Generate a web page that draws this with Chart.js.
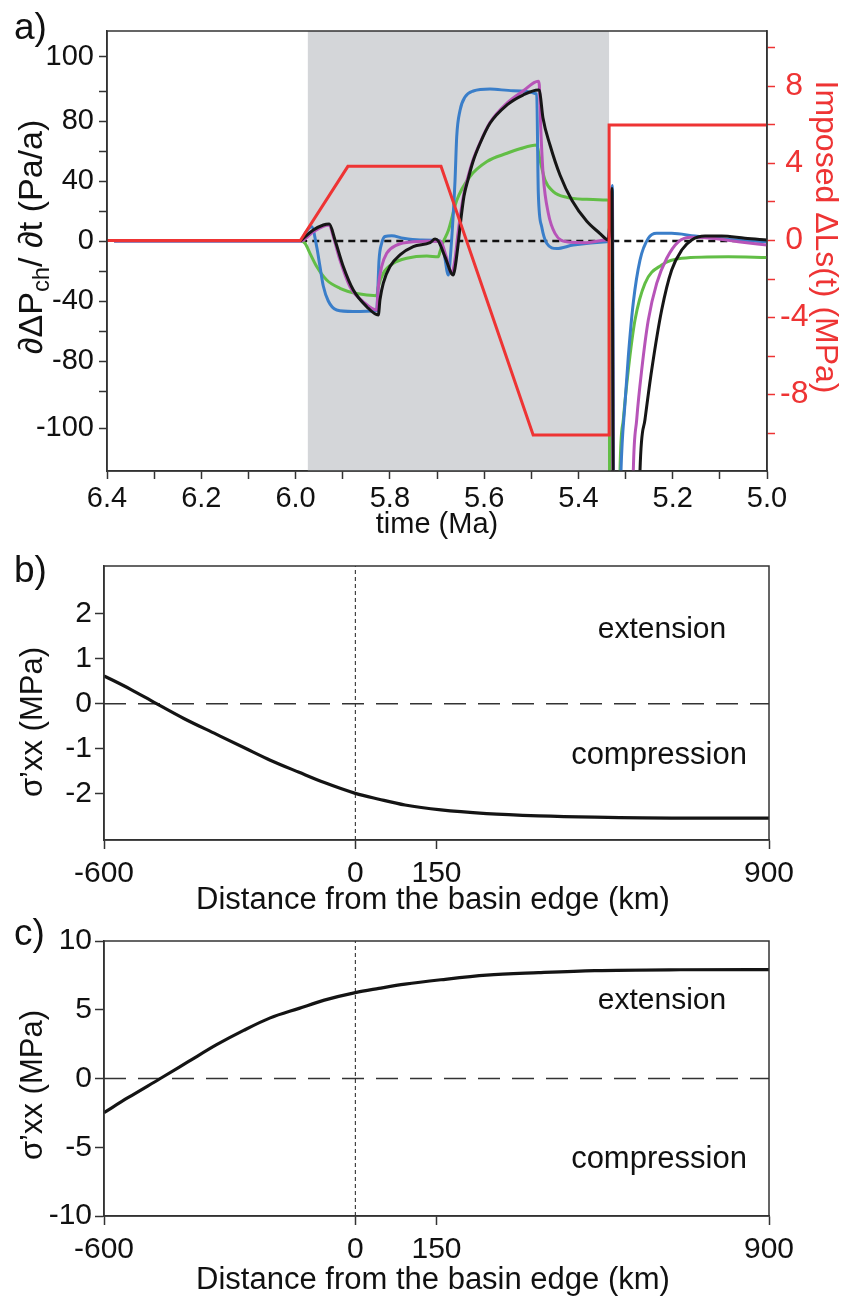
<!DOCTYPE html>
<html>
<head>
<meta charset="utf-8">
<script src="https://cdn.jsdelivr.net/npm/chart.js@4.4.1/dist/chart.umd.min.js"></script>
<style>
  body { margin: 0; background: #fff; width: 843px; height: 1296px; position: relative; overflow: hidden; }
  canvas { position: absolute; left: 0; }
  #a { top: 0; }
  #b { top: 545px; }
  #c { top: 910px; }
</style>
</head>
<body>
<canvas id="a" width="843" height="545"></canvas>
<canvas id="b" width="843" height="380"></canvas>
<canvas id="c" width="843" height="386"></canvas>
<script>
const F = "'Liberation Sans', Arial, Helvetica, sans-serif";

// ---- panel a : time (Ma) vs d(dPch)/dt (Pa/a), imposed dLs (MPa) ----
const timeTicks  = [6.4, 6.3, 6.2, 6.1, 6.0, 5.9, 5.8, 5.7, 5.6, 5.5, 5.4, 5.3, 5.2, 5.1, 5.0];
const timeLabels = ['6.4', '', '6.2', '', '6.0', '', '5.8', '', '5.6', '', '5.4', '', '5.2', '', '5.0'];
const rateTicks  = [-124.7, -100, -80, -60, -40, -20, 0, 20, 40, 60, 80, 100, 122.7];
const rateLabels = ['-100', '', '-80', '', '-40', '', '0', '', '40', '', '80', '', '100'];
const lsTicks    = [-10, -8, -6, -4, -2, 0, 2, 4, 6, 8, 10];
const lsLabels   = ['', '-8', '', '-4', '', '0', '', '4', '', '8', ''];
const shadeSpan  = [5.974, 5.335];

const blueRate = [[6.385,0],[5.9885,0],[5.98,5],[5.9658,9.5],[5.9552,-3.8],[5.9482,-17],[5.9412,-30],[5.9306,-40],
  [5.9128,-46],[5.8782,-47],[5.8279,-46.5],[5.8258,-35],[5.823,-13],[5.8173,-1.5],[5.8103,3],[5.7961,3.5],
  [5.7715,1.8],[5.736,0.7],[5.6936,0],[5.6851,-8],[5.676,-22.7],[5.6703,-5],[5.6618,40],[5.6582,69.5],
  [5.6512,87],[5.6406,96],[5.623,100],[5.5876,101.3],[5.5388,100.2],[5.4885,98],[5.4851,32],[5.4779,9.5],
  [5.4673,-1.5],[5.4461,-5],[5.4109,-2.7],[5.34,-0.5],[5.3366,0],[5.3282,37],[5.3245,-200],[5.313,-200],
  [5.3097,-153],[5.3012,-108],[5.2942,-77],[5.2836,-41],[5.2694,-12.7],[5.2518,1.8],[5.234,5.1],[5.2022,5.1],
  [5.1527,3.3],[5.0821,1.1],[5.0,-0.5]];

const magentaRate = [[6.385,0],[5.9885,0],[5.9624,6.2],[5.9285,10.7],[5.92,3],[5.9058,-12.7],[5.8845,-30.5],
  [5.8563,-40.5],[5.8279,-46],[5.8245,-30.5],[5.8173,-17],[5.8067,-8.2],[5.7855,-2.7],[5.7503,-0.5],[5.6936,0],
  [5.6894,-1.5],[5.6809,-10],[5.6688,-21.5],[5.6618,-12],[5.6555,5],[5.6491,20],[5.6427,32],[5.6342,43],
  [5.6236,54],[5.6088,65.5],[5.5876,79],[5.5515,92],[5.5176,100],[5.4851,106.5],[5.483,104],[5.48,76],
  [5.4745,43],[5.4639,18.5],[5.4497,5.1],[5.4249,-0.5],[5.3825,-1.1],[5.34,0.7],[5.3352,0.7],[5.3288,30],
  [5.3256,-200],[5.286,-200],[5.2836,-153],[5.2764,-119],[5.2658,-86],[5.2518,-52.7],[5.234,-28.2],
  [5.2127,-11.5],[5.1881,-0.5],[5.1597,2.5],[5.1173,1.8],[5.0609,-0.5],[5.0,-2.7]];

const blackRate = [[5.99,0],[5.9624,7.3],[5.9412,10.7],[5.9285,11.3],[5.9164,0.7],[5.8988,-17],[5.8775,-32.7],
  [5.8491,-43.8],[5.8245,-49.3],[5.8209,-39],[5.8139,-28],[5.7997,-17],[5.7785,-9.3],[5.7503,-3.8],
  [5.7148,-1.1],[5.7042,1.3],[5.6972,0],[5.683,-10.5],[5.6654,-22.7],[5.6618,-18],[5.6555,-3],[5.6491,15],
  [5.6427,30],[5.6342,41],[5.6236,53],[5.6088,65],[5.5876,78.5],[5.5515,90.7],[5.5176,97.3],[5.4851,100.7],
  [5.483,100.5],[5.4752,82],[5.4603,64],[5.4391,44],[5.4136,27],[5.3818,13],[5.3542,5],[5.34,1],[5.3366,0.7],
  [5.3288,35],[5.3256,-200],[5.272,-200],[5.2694,-153],[5.2588,-119],[5.2446,-86],[5.2234,-46],[5.2022,-19.3],
  [5.1809,-6],[5.1597,0.7],[5.1315,3.3],[5.0961,3.3],[5.0467,1.8],[5.0,0.7]];

const greenRate = [[6.385,0],[5.9885,0],[5.98,-1.5],[5.9694,-8.2],[5.9552,-17],[5.934,-26],[5.9058,-31.5],
  [5.8703,-35],[5.8279,-36.4],[5.8245,-30.5],[5.8139,-21.5],[5.7927,-14.9],[5.7643,-11.5],[5.7218,-10],
  [5.6972,-10.5],[5.6936,-7],[5.6873,-1],[5.676,7],[5.6582,27],[5.63,43],[5.594,53],[5.5515,58.5],
  [5.5239,61.5],[5.4885,64],[5.4815,54],[5.4709,40.7],[5.4533,32.9],[5.4249,29.1],
  [5.3825,27.8],[5.34,27.3],[5.3352,27],[5.3335,-200],[5.3135,-200],[5.3118,-153],[5.3048,-119],[5.2942,-86],
  [5.28,-52.7],[5.2588,-28.2],[5.2234,-16],[5.1809,-11.5],[5.0821,-10.5],[5.0,-10.9]];

const imposedLs = [[6.4,0],[5.99,0],[5.889,3.85],[5.6915,3.85],[5.496,-10.1],[5.335,-10.1],[5.3349,6],[5.0,6]];
const zeroRate  = [[5.99,0],[5.0,0]];

// ---- panels b and c : distance from basin edge vs sigma'xx ----
const distTicks  = [-600, -33, 150, 900];
const distLabels = ['-600', '0', '150', '900'];
const sigmaTicksB = [-2, -1, 0, 1, 2];
const sigmaTicksC = [-10, -5, 0, 5, 10];
const distB  = [-600, -540, -487, -420, -347, -280, -225, -160, -103, -33, 20, 79, 160, 263, 380, 507, 700, 900];
const sigmaB = [0.62, 0.32, 0.03, -0.33, -0.68, -1.0, -1.26, -1.53, -1.76, -2.0, -2.13, -2.26, -2.37, -2.45, -2.5, -2.53, -2.55, -2.55];
const distC  = [-600, -545, -473, -410, -347, -285, -225, -160, -103, -33, 20, 79, 160, 263, 380, 507, 700, 900];
const sigmaC = [-2.48, -1.38, 0, 1.22, 2.44, 3.5, 4.41, 5.1, 5.7, 6.25, 6.55, 6.86, 7.18, 7.52, 7.7, 7.85, 7.91, 7.92];

const RED = 'rgb(238,52,52)';

function pts(a) { return a.map(p => ({ x: p[0], y: p[1] })); }
function zip(xs, ys) { return xs.map((x, i) => ({ x: x, y: ys[i] })); }

function line(data, color, w, order, extra) {
  return Object.assign({
    data: data, borderColor: color, borderWidth: w, pointRadius: 0, fill: false,
    order: order, cubicInterpolationMode: 'monotone'
  }, extra || {});
}

function fixTicks(vals) {
  return s => { s.ticks = vals.map(v => ({ value: v })); };
}

// frame + free text drawn on top
const frameText = {
  id: 'frameText',
  afterDraw(chart, args, opts) {
    const ctx = chart.ctx, a = chart.chartArea;
    ctx.save();
    ctx.strokeStyle = '#333';
    ctx.lineWidth = 1.5;
    ctx.strokeRect(a.left, a.top, a.right - a.left, a.bottom - a.top);
    (opts.texts || []).forEach(t => {
      ctx.save();
      ctx.translate(t.x, t.y);
      if (t.rot) ctx.rotate(t.rot);
      ctx.fillStyle = t.color || '#111';
      ctx.textBaseline = t.base || 'middle';
      const parts = t.parts || [{ s: t.s }];
      let total = 0;
      parts.forEach(p => {
        ctx.font = (p.sub ? t.size * 0.7 : t.size) + 'px ' + F;
        total += ctx.measureText(p.s).width;
      });
      let x = t.align === 'left' ? 0 : -total / 2;
      parts.forEach(p => {
        ctx.font = (p.sub ? t.size * 0.7 : t.size) + 'px ' + F;
        ctx.textAlign = 'left';
        ctx.fillText(p.s, x, p.sub ? t.size * 0.28 : 0);
        x += ctx.measureText(p.s).width;
      });
      ctx.restore();
    });
    ctx.restore();
  }
};

const shade = {
  id: 'shade',
  beforeDatasetsDraw(chart) {
    const ctx = chart.ctx, a = chart.chartArea, x = chart.scales.x;
    const x0 = x.getPixelForValue(shadeSpan[0]), x1 = x.getPixelForValue(shadeSpan[1]);
    ctx.save();
    ctx.fillStyle = 'rgb(212,214,217)';
    ctx.fillRect(Math.min(x0, x1), a.top, Math.abs(x1 - x0), a.bottom - a.top);
    ctx.restore();
  }
};

Chart.defaults.font.family = F;
Chart.defaults.color = '#111';

new Chart(document.getElementById('a'), {
  type: 'line',
  data: {
    datasets: [
      line(pts(imposedLs), RED, 3, 0, { yAxisID: 'y2', cubicInterpolationMode: 'default', tension: 0 }),
      line(pts(blackRate), '#161616', 3, 1),
      line(pts(magentaRate), 'rgb(183,84,184)', 3, 2),
      line(pts(blueRate), 'rgb(58,126,201)', 3, 3),
      line(pts(greenRate), 'rgb(98,190,70)', 3, 4),
      line(pts(zeroRate), '#111', 2.5, 5, { borderDash: [7, 5], cubicInterpolationMode: 'default', tension: 0 })
    ]
  },
  options: {
    responsive: false, animation: false, devicePixelRatio: 1,
    layout: { padding: { top: 31, left: 0, right: 0, bottom: 0 } },
    plugins: {
      legend: { display: false }, tooltip: { enabled: false },
      frameText: {
        texts: [
          { s: 'a)', x: 14, y: 39, size: 37, align: 'left', base: 'alphabetic' },
          { s: 'time (Ma)', x: 437, y: 525, size: 29 },
          { parts: [{ s: '∂ΔP' }, { s: 'ch', sub: true }, { s: '/ ∂t (Pa/a)' }], x: 33, y: 237, size: 34, rot: -Math.PI / 2 },
          { s: 'Imposed ΔLs(t) (MPa)', x: 825, y: 237, size: 32, color: RED, rot: Math.PI / 2 }
        ]
      }
    },
    scales: {
      x: {
        type: 'linear', reverse: true, min: 5.0, max: 6.4,
        afterBuildTicks: fixTicks(timeTicks),
        afterFit: s => { s.height = 74; },
        ticks: { autoSkip: false, maxRotation: 0, padding: 3, font: { size: 29 }, callback: (v, i) => timeLabels[i] },
        grid: { drawOnChartArea: false, tickLength: 8, tickColor: '#333', tickWidth: 1.5 },
        border: { color: '#333', width: 1.5 }
      },
      y: {
        type: 'linear', position: 'left', min: -153.3, max: 140,
        afterBuildTicks: fixTicks(rateTicks),
        afterFit: s => { s.width = 107; },
        ticks: { autoSkip: false, padding: 5, font: { size: 29 }, callback: (v, i) => rateLabels[i] },
        grid: { drawOnChartArea: false, tickLength: 8, tickColor: '#333', tickWidth: 1.5 },
        border: { color: '#333', width: 1.5 }
      },
      y2: {
        type: 'linear', position: 'right', min: -11.97, max: 10.88,
        afterBuildTicks: fixTicks(lsTicks),
        afterFit: s => { s.width = 76; },
        ticks: { autoSkip: false, padding: 5, crossAlign: 'center', color: RED, font: { size: 32 }, callback: (v, i) => lsLabels[i] },
        grid: { drawOnChartArea: false, tickLength: 8, tickColor: RED, tickWidth: 1.5 },
        border: { color: '#333', width: 1.5 }
      }
    }
  },
  plugins: [shade, frameText]
});

function stressChart(id, dist, sigma, yTicks, yMin, yMax, pad, xH, texts) {
  new Chart(document.getElementById(id), {
    type: 'line',
    data: {
      datasets: [
        line(zip(dist, sigma), '#141414', 3.2, 0),
        line(pts([[-600, 0], [900, 0]]), '#333', 1.5, 1, { borderDash: [22, 12], tension: 0, cubicInterpolationMode: 'default' }),
        line(pts([[distTicks[1], yMin], [distTicks[1], yMax]]), '#333', 1.1, 2, { borderDash: [4, 3], tension: 0, cubicInterpolationMode: 'default' })
      ]
    },
    options: {
      responsive: false, animation: false, devicePixelRatio: 1,
      layout: { padding: { top: pad, left: 0, right: 74, bottom: 0 } },
      plugins: { legend: { display: false }, tooltip: { enabled: false }, frameText: { texts: texts } },
      scales: {
        x: {
          type: 'linear', min: -600, max: 900,
          afterBuildTicks: fixTicks(distTicks),
          afterFit: s => { s.height = xH; },
          ticks: { autoSkip: false, maxRotation: 0, padding: 7, font: { size: 30 }, callback: (v, i) => distLabels[i] },
          grid: { drawOnChartArea: false, tickLength: 9, tickColor: '#333', tickWidth: 1.5 },
          border: { color: '#333', width: 1.5 }
        },
        y: {
          type: 'linear', min: yMin, max: yMax,
          afterBuildTicks: fixTicks(yTicks),
          afterFit: s => { s.width = 104; },
          ticks: { autoSkip: false, padding: 3, font: { size: 30 }, callback: v => String(v) },
          grid: { drawOnChartArea: false, tickLength: 9, tickColor: '#333', tickWidth: 1.5 },
          border: { color: '#333', width: 1.5 }
        }
      }
    },
    plugins: [frameText]
  });
}

stressChart('b', distB, sigmaB, sigmaTicksB, -3.04, 3.07, 20, 85, [
  { s: 'b)', x: 14, y: 37, size: 37, align: 'left', base: 'alphabetic' },
  { s: 'σ’xx (MPa)', x: 33, y: 177, size: 31, rot: -Math.PI / 2 },
  { s: 'Distance from the basin edge (km)', x: 433, y: 355, size: 31 },
  { s: 'extension', x: 662, y: 85, size: 30 },
  { s: 'compression', x: 659, y: 210, size: 31 }
]);

stressChart('c', distC, sigmaC, sigmaTicksC, -10, 10, 31, 80, [
  { s: 'c)', x: 14, y: 35, size: 37, align: 'left', base: 'alphabetic' },
  { s: 'σ’xx (MPa)', x: 33, y: 175, size: 31, rot: -Math.PI / 2 },
  { s: 'Distance from the basin edge (km)', x: 433, y: 370, size: 31 },
  { s: 'extension', x: 662, y: 91, size: 30 },
  { s: 'compression', x: 659, y: 249, size: 31 }
]);
</script>
</body>
</html>
